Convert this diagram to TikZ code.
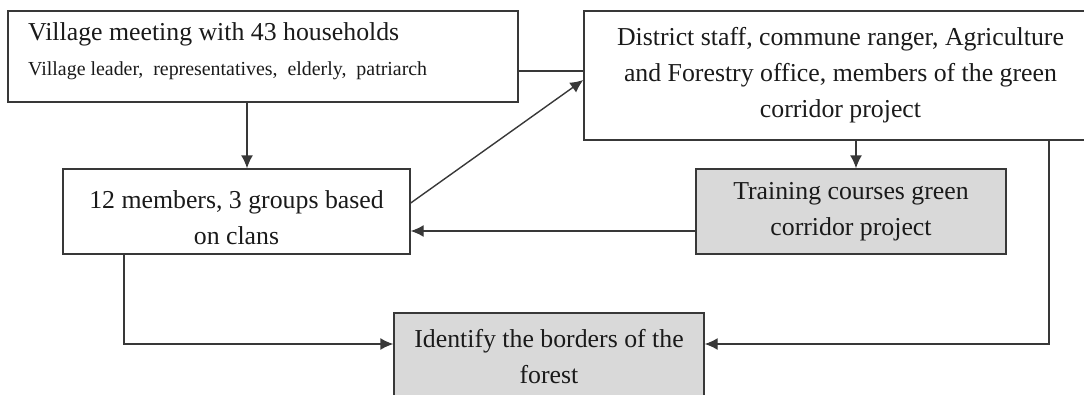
\documentclass[tikz,border=0pt]{standalone}
\usepackage{fontspec}
\setmainfont{Liberation Serif}
\usetikzlibrary{arrows.meta}
\definecolor{edge}{HTML}{383838}
\definecolor{shade}{HTML}{D9D9D9}
\definecolor{ink}{HTML}{1A1A1A}
\newcommand{\bodyfont}{\fontsize{25.8}{36}\selectfont}
\newcommand{\smallbodyfont}{\fontsize{19.9}{24}\selectfont}
\begin{document}
\begin{tikzpicture}[x=1pt,y=-1pt,
  box/.style={draw=edge, line width=1.4pt, inner sep=0pt, align=center,
              text=ink, font=\bodyfont},
  greybox/.style={box, fill=shade},
  link/.style={draw=edge, line width=1.4pt},
  arrowlink/.style={link, -{Latex[length=13pt,width=12pt]}}]
\useasboundingbox (0,0) rectangle (1084,394);
\clip (0,0) rectangle (1084,394);

% boxes
\node[box, minimum width=510, minimum height=91] (meet) at (263,56.5) {};
\node[anchor=base west, inner sep=0pt, text=ink, font=\bodyfont] (meettitle) at (28,40)
  {Village meeting with 43 households};
\node[anchor=base west, inner sep=0pt, text=ink, font=\smallbodyfont] (meetsub) at (28,75)
  {Village leader,\hspace{0.5em}representatives,\hspace{0.5em}elderly,\hspace{0.5em}patriarch};

\node[box, minimum width=513, minimum height=129] (staff) at (840.5,75.5)
  {District staff, commune ranger, Agriculture\\and Forestry office, members of the green\\corridor project};

\node[box, minimum width=347, minimum height=85] (members) at (236.5,211.5)
  {\rule{0pt}{30pt}12 members, 3 groups based\\on clans};

\node[greybox, minimum width=310, minimum height=85] (training) at (851,211.5)
  {Training courses green\\corridor project};

\node[greybox, minimum width=310, minimum height=87] (borders) at (549,356.5)
  {Identify the borders of the\\forest};

% connectors
\draw[arrowlink] ([xshift=-16pt]meet.south) -- ([xshift=-16pt]meet.south |- members.north);
\draw[link] ([yshift=-14.5pt]meet.east) -- ([yshift=-14.5pt]meet.east -| staff.west);
\draw[arrowlink] ([yshift=8.5pt]members.east) -- ([yshift=-4.5pt]staff.west);
\draw[arrowlink] ([xshift=15.5pt]staff.south) -- ([xshift=15.5pt]staff.south |- training.north);
\draw[arrowlink] ([yshift=-19.5pt]training.west) -- ([yshift=-19.5pt]training.west -| members.east);
\draw[arrowlink] ([xshift=-112.5pt]members.south) |- ([yshift=12.5pt]borders.west);
\draw[arrowlink] ([xshift=208.5pt]staff.south) |- ([yshift=12.5pt]borders.east);
\end{tikzpicture}
\end{document}
